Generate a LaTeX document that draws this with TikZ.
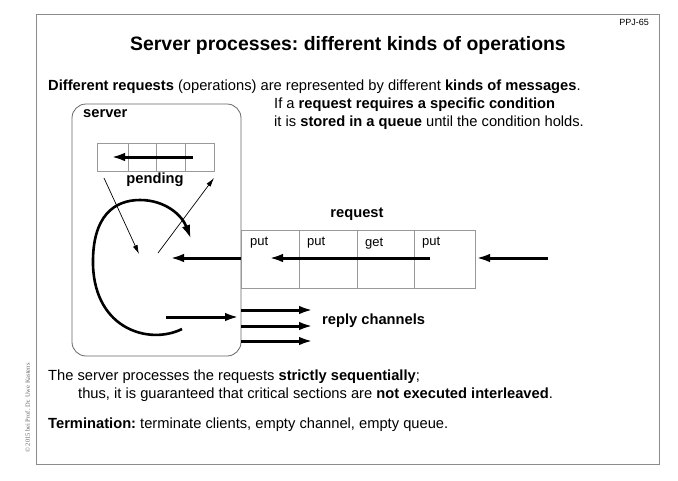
\documentclass[tikz,border=0pt]{standalone}
\usepackage{fontspec}
\setmainfont{Liberation Sans}
\newfontfamily\crserif{Liberation Serif}
\usetikzlibrary{arrows.meta}
\tikzset{
  frameline/.style={draw=black!45, line width=0.9pt},
  cell/.style={draw=black!40, line width=0.8pt},
  thick arr/.style={line width=3pt, -{Latex[length=14pt,width=8.5pt]}},
  thin arr/.style={line width=0.7pt, -{Latex[length=9pt,width=5pt]}},
  txt/.style={inner sep=0pt, anchor=base west, font=\fontsize{14.7}{17}\selectfont},
  boldtxt/.style={txt, font=\fontsize{14.7}{17}\selectfont\bfseries},
  lbl/.style={inner sep=0pt, anchor=base west, font=\fontsize{13}{15}\selectfont},
}
\begin{document}
\frenchspacing
\begin{tikzpicture}[x=1pt,y=-1pt]
\useasboundingbox (0,0) rectangle (678,480);
% frame
\draw[frameline] (36,14) rectangle (659,464);
\node[inner sep=0pt, anchor=base east, font=\fontsize{9}{10}\selectfont] (ppj) at (649,25) {PPJ-65};
\node[inner sep=0pt, anchor=base, font=\fontsize{19.4}{22}\selectfont\bfseries] (title) at (348,50) {Server processes: different kinds of operations};
\node[txt] (intro) at (48,90) {\textbf{Different requests} (operations) are represented by different \textbf{kinds of messages}.};
% server box
\draw[draw=black!60, line width=0.8pt, rounded corners=14pt] (72,104) rectangle (241,356);
\node[boldtxt] (server) at (83,117) {server};
% pending queue
\draw[cell] (97,143) rectangle (214,171);
\draw[cell] (128,143) -- (128,171) (156,143) -- (156,171) (185,143) -- (185,171);
\coordinate (pa) at (193,157);
\coordinate (pb) at (111,157);
\draw[thick arr] (pa) -- (pb);
\node[boldtxt, anchor=base] (pending) at (155,183) {pending};
% thin arrows
\coordinate (t1a) at (104,178);
\coordinate (t1b) at (139,254);
\draw[thin arr] (t1a) -- (t1b);
\coordinate (t2a) at (158,253);
\coordinate (t2b) at (214,178);
\draw[thin arr] (t2a) -- (t2b);
% loop arrow
\coordinate (ls) at (182,329);
\coordinate (le) at (191,239);
\draw[thick arr, line width=2.6pt] (ls) .. controls (150,345) and (95,330) .. (93,265)
  .. controls (92,215) and (115,200) .. (140,200)
  .. controls (165,200) and (182,215) .. (le);
% reply arrow inside server
\coordinate (ra) at (166,317);
\coordinate (rb) at (239,317);
\draw[thick arr] (ra) -- (rb);
% reply channels
\foreach \y/\n in {310/1,326/2,341/3}{
  \coordinate (rc\n a) at (241,\y);
  \coordinate (rc\n b) at (313,\y);
  \draw[thick arr] (rc\n a) -- (rc\n b);
}
\node[boldtxt] (replych) at (322,324) {reply channels};
% request queue
\node[boldtxt, anchor=base] (request) at (357,217) {request};
\draw[cell] (241,230) rectangle (475,288);
\draw[cell] (299,230) -- (299,288) (357,230) -- (357,288) (414,230) -- (414,288);
\node[lbl] (q1) at (250,245) {put};
\node[lbl] (q2) at (307,245) {put};
\node[lbl] (q3) at (365,246) {get};
\node[lbl] (q4) at (422,245) {put};
\coordinate (qa) at (430,258);
\coordinate (qb) at (269,258);
\draw[thick arr] (qa) -- (qb);
\coordinate (ia) at (548,258);
\coordinate (ib) at (476,258);
\draw[thick arr] (ia) -- (ib);
\coordinate (sa) at (241,258);
\coordinate (sb) at (170,258);
\draw[thick arr] (sa) -- (sb);
% condition text
\node[txt] (cond1) at (274,108) {If a \textbf{request requires a specific condition}};
\node[txt] (cond2) at (274,126) {it is \textbf{stored in a queue} until the condition holds.};
% bottom text
\node[txt] (b1) at (48,380) {The server processes the requests \textbf{strictly sequentially};};
\node[txt] (b2) at (78,398) {thus, it is guaranteed that critical sections are \textbf{not executed interleaved}.};
\node[txt] (b3) at (48,428) {\textbf{Termination:} terminate clients, empty channel, empty queue.};
% copyright
\node[inner sep=0pt, anchor=base west, rotate=90, text=black!60, font=\crserif\fontsize{6.5}{7}\selectfont] (copy) at (30,453) {\textcopyright{} 2015 bei Prof. Dr. Uwe Kastens};
\end{tikzpicture}
\end{document}
